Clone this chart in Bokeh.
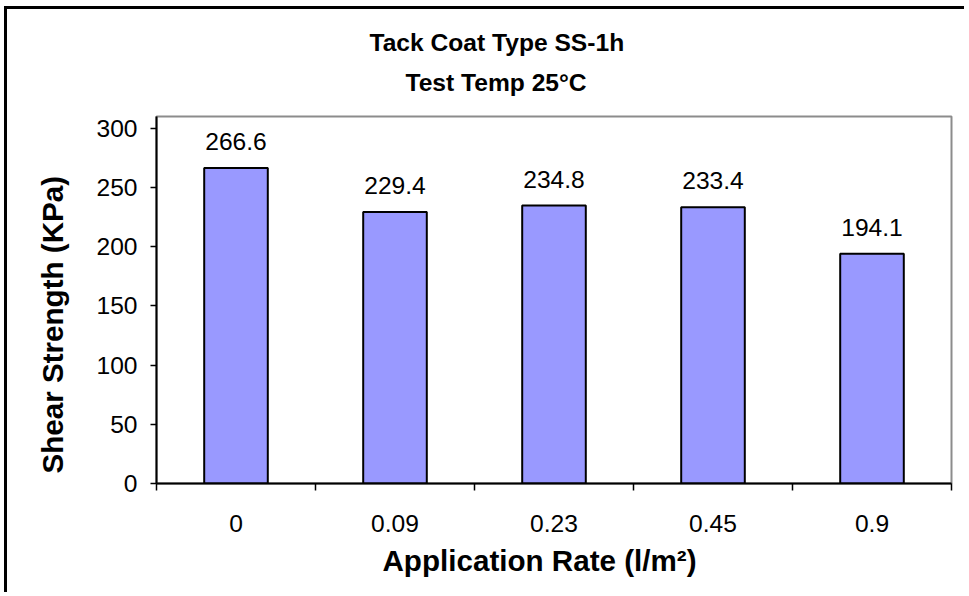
from bokeh.plotting import figure
from bokeh.models import Range1d, FixedTicker, LabelSet, Title, ColumnDataSource
from bokeh.embed import file_html
from bokeh.resources import INLINE
from bokeh.core.properties import value

# ---- data ----
rates = ["0", "0.09", "0.23", "0.45", "0.9"]
shear = [266.6, 229.4, 234.8, 233.4, 194.1]
y_ticks = [0, 50, 100, 150, 200, 250, 300]
title_lines = ["Tack Coat Type SS-1h", "Test Temp 25°C"]
x_title = "Application Rate (l/m²)"
y_title = "Shear Strength (KPa)"

FONT = "Liberation Sans"
W, H = 960, 586

x_pos = [i + 0.5 for i in range(len(rates))]
src = ColumnDataSource(dict(x=x_pos, y=shear, label=[f"{v:.1f}" for v in shear]))

p = figure(width=W, height=H, output_backend="svg", toolbar_location=None,
           x_range=Range1d(0, len(rates)), y_range=Range1d(0, 310),
           min_border_left=149, min_border_right=16,
           min_border_top=107, min_border_bottom=112)
p.styles = {"border-left": "3px solid black", "border-top": "3px solid black",
            "margin-left": "4px", "margin-top": "6px"}

p.background_fill_color = "white"
p.border_fill_color = "white"
p.outline_line_color = "#8c8c8c"
p.outline_line_width = 2
p.xgrid.visible = False
p.ygrid.visible = False

p.vbar(x="x", top="y", width=0.4, source=src,
       fill_color="#9999FF", line_color="black", line_width=2)

labels = LabelSet(x="x", y="y", text="label", source=src, y_offset=18,
                  text_align="center", text_baseline="alphabetic",
                  text_font=value(FONT), text_font_size=value("24.6px"),
                  text_color="black")
p.add_layout(labels)

# x axis: labels at centres, ticks at category boundaries
xa = p.xaxis[0]
xa.ticker = FixedTicker(ticks=x_pos, minor_ticks=list(range(len(rates) + 1)))
xa.major_label_overrides = {xp: r for xp, r in zip(x_pos, rates)}
xa.major_tick_out = 0
xa.major_tick_in = 0
xa.minor_tick_out = 7
xa.minor_tick_in = 0
xa.minor_tick_line_color = "black"
xa.minor_tick_line_width = 1.5
xa.axis_line_color = "black"
xa.axis_line_width = 2
xa.major_label_standoff = 24
xa.major_label_text_font = FONT
xa.major_label_text_font_size = "24.6px"
xa.major_label_text_color = "black"

ya = p.yaxis[0]
ya.ticker = FixedTicker(ticks=y_ticks)
ya.major_tick_out = 6
ya.major_tick_in = 0
ya.major_tick_line_color = "black"
ya.major_tick_line_width = 1.5
ya.axis_line_color = "black"
ya.axis_line_width = 2
ya.major_label_standoff = 13
ya.major_label_text_font = FONT
ya.major_label_text_font_size = "24.6px"
ya.major_label_text_color = "black"

# axis titles as side titles (positioned like the reference)
p.add_layout(Title(text=y_title, align="left", offset=10, standoff=50,
                   text_font=FONT, text_font_size="29.6px",
                   text_font_style="bold", text_color="black"), "left")
p.add_layout(Title(text=x_title, align="left", offset=226, standoff=14,
                   text_font=FONT, text_font_size="29.6px",
                   text_font_style="bold", text_color="black"), "below")

# two-line chart title: first added sits nearest the frame
for t, off, so in zip(reversed(title_lines), [249, 213], [42, -21]):
    p.add_layout(Title(text=t, align="left", offset=off, standoff=so,
                       text_font=FONT, text_font_size="24.6px",
                       text_font_style="bold", text_color="black"), "above")

open("out.html", "w").write(file_html(p, INLINE))
